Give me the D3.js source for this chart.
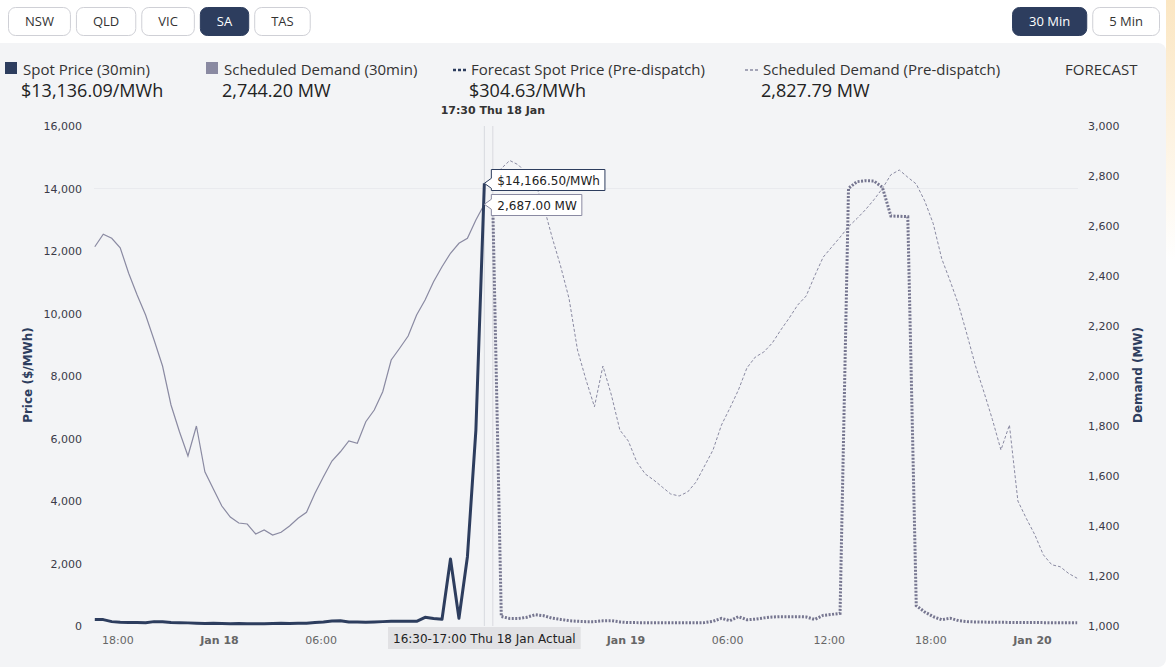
<!DOCTYPE html>
<html>
<head>
<meta charset="utf-8">
<script src="https://cdnjs.cloudflare.com/ajax/libs/d3/7.8.5/d3.min.js"></script>
<style>
  body { margin: 0; background: #fff; }
  svg { display: block; }
  .btn text { font-family: "Open Sans", sans-serif; font-size: 13px; }
  .legend-label { font-family: "Open Sans", sans-serif; font-size: 15px; fill: #333; }
  .legend-value { font-family: "Open Sans", sans-serif; font-size: 18px; fill: #222; }
  .axis text { font-family: "DejaVu Sans", Verdana, sans-serif; font-size: 11px; }
  .axis path, .axis line { display: none; }
  .axis-title { font-family: "DejaVu Sans", Verdana, sans-serif; font-size: 12px; font-weight: bold; fill: #2d3d5e; }
  .tip text { font-family: "DejaVu Sans", Verdana, sans-serif; font-size: 12px; fill: #222; }
</style>
</head>
<body>
<svg id="chart" width="1175" height="671"></svg>
<script>
"use strict";

const regions = ["NSW", "QLD", "VIC", "SA", "TAS"];
const activeRegion = "SA";
const intervals = ["30 Min", "5 Min"];
const activeInterval = "30 Min";

// actual 30 min intervals, period ending, market time
const actualStart = new Date(2024, 0, 17, 18, 0);
const actualPrice = [210, 205, 140, 120, 115, 110, 105, 140, 135, 110, 105, 100, 90, 80, 85, 80,
    75, 80, 75, 70, 75, 80, 85, 80, 85, 90, 110, 130, 160, 170, 130, 125, 120, 130, 140, 150,
    150, 155, 150, 278, 240, 214, 2144, 246, 2218, 6270, 14166.5];
const actualDemand = [2517, 2567, 2551, 2513, 2411, 2324, 2244, 2144, 2040, 1884, 1777, 1680,
    1800, 1617, 1548, 1480, 1436, 1412, 1408, 1368, 1384, 1364, 1375, 1400, 1431, 1455, 1531,
    1597, 1660, 1697, 1740, 1731, 1817, 1864, 1937, 2064, 2111, 2160, 2244, 2304, 2377, 2437,
    2491, 2531, 2551, 2624, 2687];

// pre-dispatch forecast, 30 min
const forecastStart = new Date(2024, 0, 18, 17, 30);
const forecastPrice = [13400, 304.63, 240, 240, 280, 360, 330, 250, 210, 170, 150, 140, 140, 165,
    170, 130, 110, 108, 106, 105, 105, 105, 105, 105, 106, 108, 150, 245, 170, 300, 200, 220, 260,
    290, 300, 300, 300, 290, 210, 340, 370, 405, 14006, 14218, 14250, 14240, 14038, 13120, 13110,
    13098, 650, 450, 300, 200, 250, 170, 140, 130, 125, 120, 118, 115, 112, 110, 110, 108, 106,
    105, 105, 104];
const forecastDemand = [2745, 2830, 2862, 2845, 2810, 2770, 2680, 2555, 2440, 2310, 2104, 1985,
    1877, 2040, 1924, 1784, 1740, 1656, 1608, 1584, 1556, 1528, 1520, 1536, 1576, 1640, 1704,
    1804, 1872, 1944, 2032, 2076, 2096, 2132, 2184, 2232, 2284, 2320, 2400, 2475, 2515, 2555,
    2597, 2630, 2665, 2705, 2750, 2805, 2824, 2795, 2768, 2700, 2610, 2470, 2380, 2285, 2165,
    2040, 1935, 1825, 1704, 1804, 1500, 1430, 1365, 1285, 1245, 1237, 1210, 1191];

const seriesNames = ["Spot Price (30min)", "Scheduled Demand (30min)",
    "Forecast Spot Price (Pre-dispatch)", "Scheduled Demand (Pre-dispatch)"];
const legendValues = [13136.09, 2744.20, 304.63, 2827.79];

const priceTicks = [0, 2000, 4000, 6000, 8000, 10000, 12000, 14000, 16000];
const demandTicks = [1000, 1200, 1400, 1600, 1800, 2000, 2200, 2400, 2600, 2800, 3000];

const navy = "#2d3d5e";
const grey = "#8a8aa2";
const halfHour = 30 * 60 * 1000;
// the source chart's time axis runs 80 min behind the market-time tooltips
const axisShift = -80 * 60 * 1000;

const svg = d3.select("#chart");
const plotTop = 126, plotBottom = 626;

const x = d3.scaleTime()
    .domain([new Date(2024, 0, 18), new Date(2024, 0, 20)])
    .range([219, 1032]);
const yPrice = d3.scaleLinear().domain([0, 16000]).range([plotBottom, plotTop]);
const yDemand = d3.scaleLinear().domain([1000, 3000]).range([plotBottom, plotTop]);

function toPoints(start, values) {
    return values.map((v, i) => ({ t: new Date(start.getTime() + i * halfHour), v: v }));
}
function xPos(d) { return x(new Date(d.t.getTime() + axisShift)); }

const fmtMoney = d3.format(",.2f");

// background panels
const defs = svg.append("defs");
const grad = defs.append("linearGradient").attr("id", "edge").attr("x1", 0).attr("y1", 0).attr("x2", 0).attr("y2", 1);
grad.append("stop").attr("offset", "0%").attr("stop-color", "#fbe6c2");
grad.append("stop").attr("offset", "100%").attr("stop-color", "#ffffff");
svg.append("rect").attr("x", 1166).attr("y", 0).attr("width", 9).attr("height", 260).attr("fill", "url(#edge)");
svg.append("rect").attr("x", -10).attr("y", 43).attr("width", 1176).attr("height", 624)
    .attr("rx", 8).attr("fill", "#f3f4f6");

// buttons
function buttonRow(labels, active, startX, alignRight) {
    const g = svg.append("g");
    const items = labels.map(l => {
        const b = g.append("g").attr("class", "btn");
        const r = b.append("rect");
        const t = b.append("text").text(l).attr("text-anchor", "middle")
            .attr("fill", l == active ? "#fff" : "#333");
        const w = t.node().getComputedTextLength() + 34;
        return { b: b, r: r, t: t, w: w, active: l == active };
    });
    let total = d3.sum(items, d => d.w) + 5 * (items.length - 1);
    let cx = alignRight ? startX - total : startX;
    items.forEach(d => {
        d.r.attr("x", cx + 0.5).attr("y", 7.5).attr("width", d.w - 1).attr("height", 28)
            .attr("rx", 7)
            .attr("fill", d.active ? navy : "#fff")
            .attr("stroke", d.active ? navy : "#cfd0d6");
        d.t.attr("x", cx + d.w / 2).attr("y", 26);
        cx += d.w + 5;
    });
}
buttonRow(regions, activeRegion, 8, false);
buttonRow(intervals, activeInterval, 1160, true);

// legend
const legendX = [5, 206, 453, 745];
const legend = svg.append("g");
seriesNames.forEach((name, i) => {
    const lx = legendX[i];
    if (i < 2) {
        legend.append("rect").attr("x", lx).attr("y", 62).attr("width", 12).attr("height", 12)
            .attr("fill", i == 0 ? navy : grey);
    } else {
        legend.append("line").attr("x1", lx).attr("x2", lx + 14).attr("y1", 70).attr("y2", 70)
            .attr("stroke", i == 2 ? navy : grey)
            .attr("stroke-width", i == 2 ? 2.5 : 1.5)
            .attr("stroke-dasharray", "3,2");
    }
    legend.append("text").attr("class", "legend-label").attr("x", lx + 18).attr("y", 75).text(name);
    const v = legendValues[i];
    const txt = (i % 2 == 0) ? "$" + fmtMoney(v) + "/MWh" : fmtMoney(v) + " MW";
    legend.append("text").attr("class", "legend-value").attr("x", lx + 16).attr("y", 97).text(txt);
});
legend.append("text").attr("class", "legend-label").attr("x", 1065).attr("y", 75).text("FORECAST");

// axes
svg.append("line").attr("x1", 94).attr("x2", 1078)
    .attr("y1", yPrice(14000)).attr("y2", yPrice(14000))
    .attr("stroke", "#e9eaee").attr("stroke-width", 1);

const xTicks = d3.timeHour.every(6).range(new Date(2024, 0, 17, 18), new Date(2024, 0, 20, 1));
const xAxis = svg.append("g").attr("class", "axis").attr("transform", `translate(0,${plotBottom})`)
    .call(d3.axisBottom(x).tickValues(xTicks).tickSize(0).tickPadding(10)
        .tickFormat(d => d.getHours() == 0 ? d3.timeFormat("%b %d")(d) : d3.timeFormat("%H:%M")(d)));
xAxis.selectAll("text").attr("fill", "#666")
    .attr("font-weight", d => d.getHours() == 0 ? "bold" : "normal");

svg.append("g").attr("class", "axis").attr("transform", "translate(90,0)")
    .call(d3.axisLeft(yPrice).tickValues(priceTicks).tickSize(0).tickPadding(8).tickFormat(d3.format(",")))
    .selectAll("text").attr("fill", "#3a3a48");
svg.append("g").attr("class", "axis").attr("transform", "translate(1080,0)")
    .call(d3.axisRight(yDemand).tickValues(demandTicks).tickSize(0).tickPadding(8).tickFormat(d3.format(",")))
    .selectAll("text").attr("fill", "#3a3a48");

svg.append("text").attr("class", "axis-title").attr("text-anchor", "middle")
    .attr("transform", "translate(32,375) rotate(-90)").text("Price ($/MWh)");
svg.append("text").attr("class", "axis-title").attr("text-anchor", "middle")
    .attr("transform", "translate(1142,375) rotate(-90)").text("Demand (MW)");

// series
const aPrice = toPoints(actualStart, actualPrice);
const aDemand = toPoints(actualStart, actualDemand);
const fPrice = toPoints(forecastStart, forecastPrice);
const fDemand = toPoints(forecastStart, forecastDemand);

const lastA = aPrice.length - 1;
const hoverX = [xPos(aPrice[lastA]), xPos(fPrice[0])];

// crosshairs
hoverX.forEach(hx => {
    svg.append("line").attr("x1", hx).attr("x2", hx).attr("y1", plotTop).attr("y2", plotBottom)
        .attr("stroke", "#d9dadf").attr("stroke-width", 1);
});

const priceLine = d3.line().x(xPos).y(d => yPrice(d.v));
const demandLine = d3.line().x(xPos).y(d => yDemand(d.v));

svg.append("path").datum(fDemand).attr("d", demandLine).attr("fill", "none")
    .attr("stroke", grey).attr("stroke-width", 1).attr("stroke-dasharray", "3,2");
svg.append("path").datum(aDemand).attr("d", demandLine).attr("fill", "none")
    .attr("stroke", grey).attr("stroke-width", 1.2);
svg.append("path").datum(fPrice).attr("d", priceLine).attr("fill", "none")
    .attr("stroke", "#767690").attr("stroke-width", 3).attr("stroke-dasharray", "2,1.5");
svg.append("path").datum(aPrice).attr("d", priceLine).attr("fill", "none")
    .attr("stroke", navy).attr("stroke-width", 3).attr("stroke-linejoin", "round");

// header time label
const fmtStamp = d3.timeFormat("%H:%M %a %-d %b");
svg.append("text").attr("x", hoverX[1]).attr("y", 114).attr("text-anchor", "middle")
    .attr("font-family", "DejaVu Sans, Verdana, sans-serif").attr("font-size", 11)
    .attr("font-weight", "bold").attr("fill", "#333")
    .text(fmtStamp(fPrice[0].t));

// tooltips
function callout(tipX, tipY, boxTop, label, color) {
    const g = svg.append("g").attr("class", "tip");
    const left = tipX + 7;
    const t = g.append("text").attr("x", left + 6).attr("y", boxTop + 15).text(label);
    const w = t.node().getComputedTextLength() + 11;
    const h = 21;
    const py = Math.min(Math.max(tipY, boxTop + 3), boxTop + h - 3);
    const p = d3.path();
    p.moveTo(left, boxTop);
    p.lineTo(left + w, boxTop);
    p.lineTo(left + w, boxTop + h);
    p.lineTo(left, boxTop + h);
    p.lineTo(left, Math.min(py + 5, boxTop + h));
    p.lineTo(tipX, tipY);
    p.lineTo(left, Math.max(py - 5, boxTop));
    p.closePath();
    g.insert("path", "text").attr("d", p.toString())
        .attr("fill", "#fff").attr("stroke", color).attr("stroke-width", 1);
}
const lastPrice = aPrice[lastA], lastDemand = aDemand[lastA];
callout(hoverX[0], yPrice(lastPrice.v), 169.5, "$" + fmtMoney(lastPrice.v) + "/MWh", navy);
callout(hoverX[0], yDemand(lastDemand.v), 194.5, fmtMoney(lastDemand.v) + " MW", grey);

// x position label, hides the axis labels it sits over
const fmtHM = d3.timeFormat("%H:%M");
const periodLabel = fmtHM(new Date(lastPrice.t.getTime() - halfHour)) + "-" +
    fmtStamp(lastPrice.t) + " Actual";
const xl = svg.append("g").attr("class", "tip");
const xlText = xl.append("text").attr("y", 643).attr("text-anchor", "middle").text(periodLabel);
const xlw = xlText.node().getComputedTextLength() + 10;
const xlLeft = hoverX[0] - xlw / 2;
xl.insert("rect", "text").attr("x", xlLeft).attr("y", 627)
    .attr("width", xlw).attr("height", 22).attr("fill", "#e1e1e4");
xlText.attr("x", hoverX[0]);

xAxis.selectAll(".tick").filter(d => x(d) > xlLeft - 15 && x(d) < xlLeft + xlw + 15).remove();
</script>
</body>
</html>
